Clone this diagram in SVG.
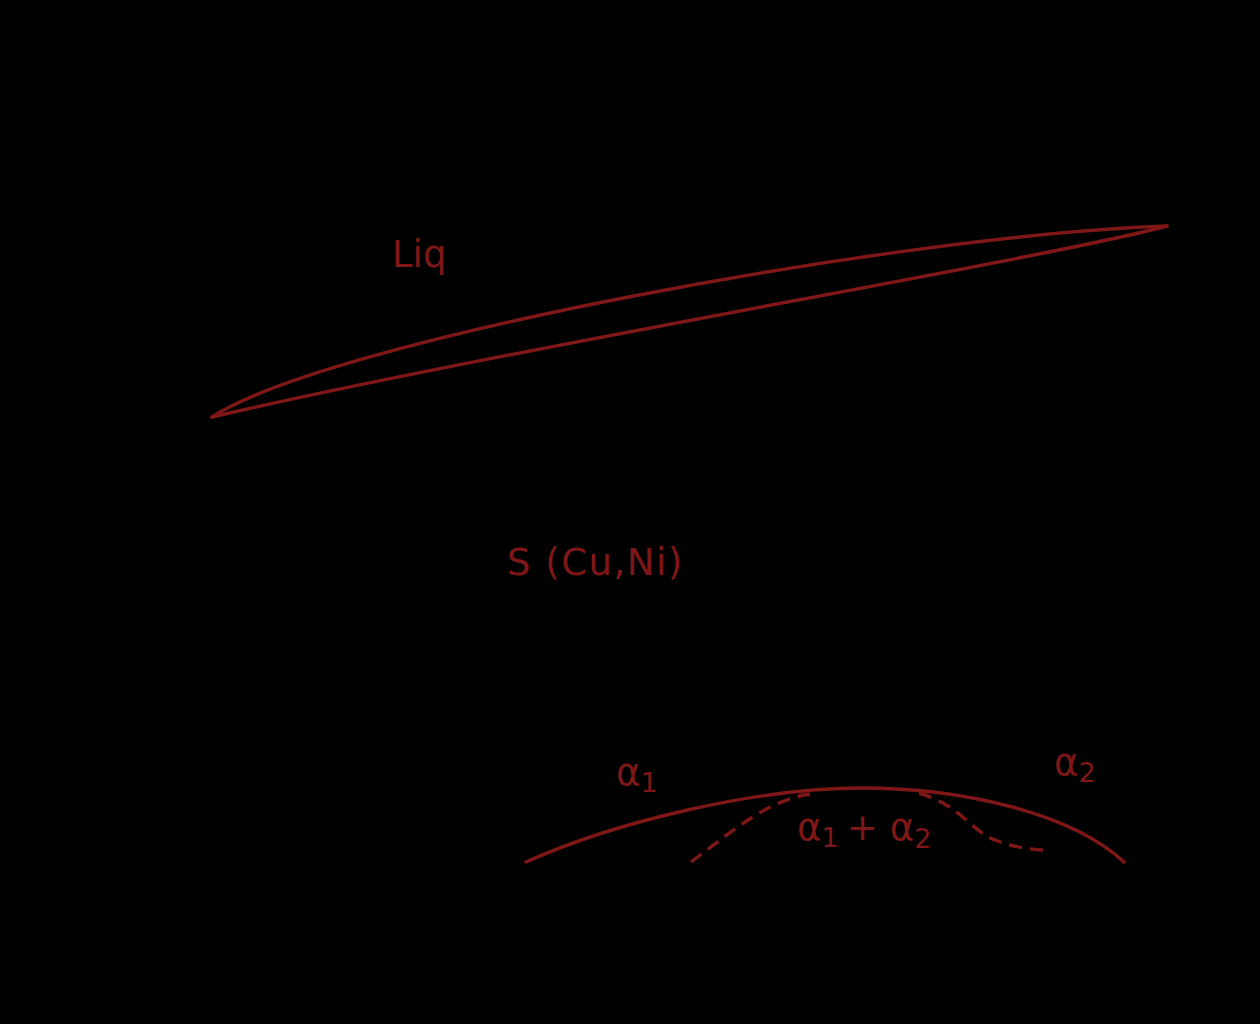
<svg xmlns="http://www.w3.org/2000/svg" width="1260" height="1024" viewBox="0 0 1260 1024">
<style>
.c{fill:none;stroke:#7f1717;stroke-width:3.4;stroke-linecap:round;stroke-linejoin:round}
.d{stroke-dasharray:13,8;stroke-linecap:butt}
.t{font-family:"DejaVu Sans","Liberation Sans",sans-serif;font-size:37px;fill:#7f1717}
.s{font-size:27px}
</style>
<rect width="1260" height="1024" fill="#000"/>
<g id="connectors">
<path id="liquidus" class="c" d="M212,417 C330,340 900,235 1167,226"/>
<path id="solidus" class="c" d="M212,417 C500,350 1050,258 1167,226"/>
<path id="solvus" class="c" d="M526,862 C620,820 760,788 861,788 C960,788 1070,812 1124,862"/>
<path id="spinodal-left" class="c d" d="M691,862 C740,825 770,800 810,794"/>
<path id="spinodal-right" class="c d" d="M919,793 C960,805 970,830 995,840 C1015,848 1035,850 1047,850"/>
</g>
<g id="label-liq"><text class="t" x="392" y="267">Liq</text></g>
<g id="label-s"><text class="t" x="507" y="575" letter-spacing="1.5">S (Cu,Ni)</text></g>
<g id="label-a1"><text class="t" x="616" y="785">α<tspan class="s" y="792">1</tspan></text></g>
<g id="label-a1a2"><text class="t" x="797" y="840">α<tspan class="s" y="847">1</tspan><tspan x="847" y="840">+ α</tspan><tspan class="s" y="848">2</tspan></text></g>
<g id="label-a2"><text class="t" x="1054" y="775">α<tspan class="s" y="782">2</tspan></text></g>
</svg>
